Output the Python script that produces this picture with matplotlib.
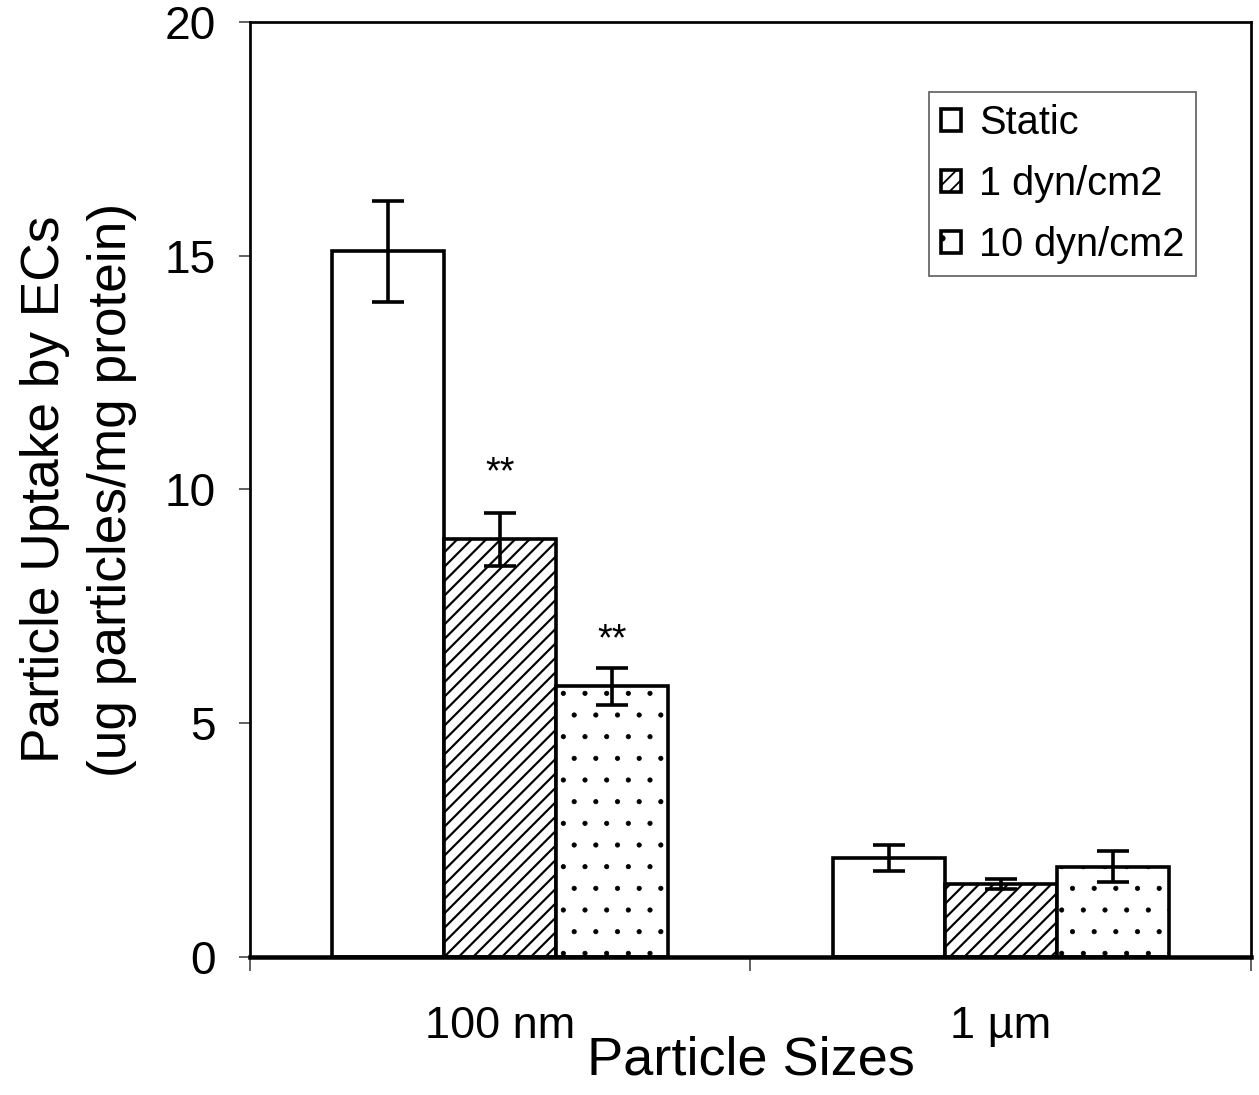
import matplotlib
matplotlib.use("Agg")
import matplotlib.pyplot as plt
import numpy as np

plt.rcParams['font.family'] = ['Liberation Sans', 'DejaVu Sans']
plt.rcParams['hatch.linewidth'] = 1.0

categories = ["100 nm", "1 \u00b5m"]
series = ["Static", "1 dyn/cm2", "10 dyn/cm2"]
values = {
    "Static": [15.1, 2.12],
    "1 dyn/cm2": [8.93, 1.56],
    "10 dyn/cm2": [5.79, 1.93],
}
errors = {
    "Static": [1.08, 0.28],
    "1 dyn/cm2": [0.56, 0.10],
    "10 dyn/cm2": [0.39, 0.33],
}
hatches = {"Static": "", "1 dyn/cm2": "///", "10 dyn/cm2": "."}
hatch_lw = {"Static": 1.0, "1 dyn/cm2": 1.2, "10 dyn/cm2": 0.4}
# significance markers: label text and the y value at which it sits
stars = {"1 dyn/cm2": ["**", ""], "10 dyn/cm2": ["**", ""]}
star_y = {"1 dyn/cm2": [10.35, None], "10 dyn/cm2": [6.78, None]}

DPI = 130
fig = plt.figure(figsize=(1259 / DPI, 1095 / DPI), dpi=DPI)
ax = fig.add_axes([0.1986, 0.126, 0.795, 0.854])

centers = np.arange(len(categories)) + 0.5
width = 0.224
offsets = [-width, 0, width]
for s, off in zip(series, offsets):
    x = centers + off
    with plt.rc_context({'hatch.linewidth': hatch_lw[s]}):
        bars = ax.bar(x, values[s], width, color="white", edgecolor="black",
                      linewidth=2.0, hatch=hatches[s], label=s, zorder=2)
    for b in bars:
        if hasattr(b, "set_hatch_linewidth"):
            b.set_hatch_linewidth(hatch_lw[s])
    ax.errorbar(x, values[s], yerr=errors[s], fmt="none", ecolor="black",
                elinewidth=2.0, capsize=9, capthick=2.0, zorder=3)
    if s in stars:
        for xi, t, ty in zip(x, stars[s], star_y[s]):
            if t:
                ax.text(xi, ty, t, ha="center", va="center", fontsize=21)

ax.set_xlim(0, 2)
ax.set_ylim(0, 20)
ax.set_yticks([0, 5, 10, 15, 20])
ax.tick_params(axis="y", labelsize=25.5, length=6, width=1, color="#555555", direction="out", pad=13)
ax.set_xticks([0, 1, 2])
ax.set_xticklabels([])
ax.tick_params(axis="x", which="major", length=8, width=1, color="#555555", direction="out")
ax.set_xticks(centers, minor=True)
ax.set_xticklabels(categories, minor=True)
ax.tick_params(axis="x", which="minor", length=0, labelsize=25, pad=27)

for sp in ["left", "top", "right"]:
    ax.spines[sp].set_linewidth(1.5)
ax.spines["bottom"].set_linewidth(2.5)

ax.set_ylabel("Particle Uptake by ECs\n(ug particles/mg protein)", fontsize=29.5, labelpad=15,
              linespacing=1.45)
ax.set_xlabel("Particle Sizes", fontsize=30, labelpad=-6)

leg = ax.legend(loc="upper right", bbox_to_anchor=(0.9455, 0.925), fontsize=22,
                handlelength=0.5, handleheight=0.5, handletextpad=0.45,
                labelspacing=0.58, borderpad=0.3, frameon=True, fancybox=False,
                edgecolor="#444444", borderaxespad=0)
leg.get_frame().set_linewidth(1.0)

fig.savefig("out.png", dpi=DPI)
